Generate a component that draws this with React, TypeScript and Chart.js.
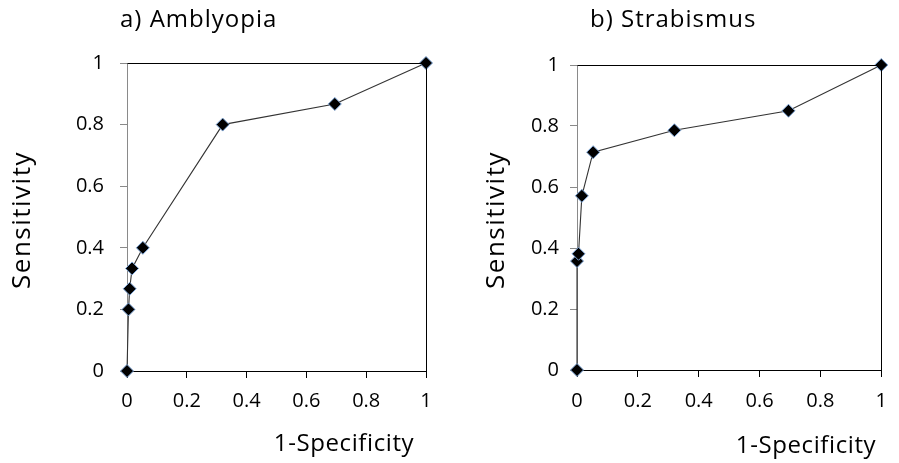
import React, { useEffect, useRef } from "react";
import { Chart, registerables } from "chart.js";

Chart.register(...registerables);

// ---- data ----
const amblyopiaFpr = [0, 0.005, 0.009, 0.017, 0.053, 0.32, 0.695, 1];
const amblyopiaTpr = [0, 0.2, 0.267, 0.333, 0.4, 0.8, 0.867, 1];
const strabismusFpr = [0, 0, 0.005, 0.016, 0.053, 0.32, 0.695, 1];
const strabismusTpr = [0, 0.357, 0.381, 0.571, 0.714, 0.786, 0.85, 1];
const tickValues = [0, 0.2, 0.4, 0.6, 0.8, 1];
const panelTitles = ["a) Amblyopia", "b) Strabismus"];
const xAxisTitle = "1-Specificity";
const yAxisTitle = "Sensitivity";

const FONT = "'Open Sans', 'Noto Sans', sans-serif";

type Layout = {
  canvasW: number;
  canvasH: number;
  left: number;
  top: number;
  right: number;
  bottom: number;
  yPad: number;
  xPad: number;
  titleX: number;
  titleBase: number;
  xTitleX: number;
  xTitleBase: number;
  yTitleX: number;
  yTitleY: number;
};

function makeTextPlugin(title: string, L: Layout) {
  return {
    id: "panelText",
    afterDraw(chart: any) {
      const ctx = chart.ctx as CanvasRenderingContext2D;
      const ca = chart.chartArea;
      ctx.save();
      // plot-area border: top and right in black
      ctx.strokeStyle = "#000";
      ctx.lineWidth = 1;
      ctx.beginPath();
      const l = Math.round(ca.left) + 0.5;
      const t = Math.round(ca.top) + 0.5;
      const r = Math.round(ca.right) + 0.5;
      const b = Math.round(ca.bottom) + 0.5;
      ctx.moveTo(l, t);
      ctx.lineTo(r, t);
      ctx.lineTo(r, b);
      ctx.stroke();

      ctx.fillStyle = "#000";
      // title
      ctx.font = `24px ${FONT}`;
      (ctx as any).letterSpacing = "1px";
      ctx.textAlign = "left";
      ctx.textBaseline = "alphabetic";
      ctx.fillText(title, L.titleX, L.titleBase);
      // x title
      (ctx as any).letterSpacing = "0.6px";
      ctx.textAlign = "center";
      ctx.fillText(xAxisTitle, L.xTitleX, L.xTitleBase);
      // y title
      ctx.font = `26px ${FONT}`;
      (ctx as any).letterSpacing = "1.5px";
      ctx.translate(L.yTitleX, L.yTitleY);
      ctx.rotate(-Math.PI / 2);
      ctx.textBaseline = "middle";
      ctx.fillText(yAxisTitle, 0, 0);
      ctx.restore();
    },
  };
}

function buildConfig(xs: number[], ys: number[], title: string, L: Layout): any {
  const tickFont = { family: FONT, size: 20 };
  return {
    type: "scatter",
    data: {
      datasets: [
        {
          data: xs.map((x, i) => ({ x, y: ys[i] })),
          showLine: true,
          borderColor: "#333333",
          borderWidth: 1.1,
          pointStyle: "rectRot",
          pointRadius: 6.5,
          pointBackgroundColor: "#000000",
          pointBorderColor: "#7fa7d9",
          pointBorderWidth: 1,
          clip: false,
        },
      ],
    },
    options: {
      responsive: false,
      animation: false,
      events: [],
      layout: {
        padding: { left: 0, top: L.top, right: L.canvasW - L.right, bottom: 0 },
      },
      plugins: {
        legend: { display: false },
        tooltip: { enabled: false },
        title: { display: false },
      },
      scales: {
        x: {
          type: "linear",
          min: 0,
          max: 1,
          afterBuildTicks: (s: any) => {
            s.ticks = tickValues.map((v) => ({ value: v }));
          },
          afterFit: (s: any) => {
            s.height = L.canvasH - L.bottom;
          },
          ticks: {
            font: tickFont,
            color: "#000",
            padding: L.xPad,
            maxRotation: 0,
            autoSkip: false,
            callback: (v: any) => String(v),
          },
          grid: {
            drawOnChartArea: false,
            drawTicks: true,
            tickLength: 7,
            color: "#000",
          },
          border: { color: "#000", width: 1 },
        },
        y: {
          type: "linear",
          min: 0,
          max: 1,
          afterBuildTicks: (s: any) => {
            s.ticks = tickValues.map((v) => ({ value: v }));
          },
          afterFit: (s: any) => {
            s.width = L.left;
          },
          ticks: {
            font: tickFont,
            color: "#000",
            padding: L.yPad,
            autoSkip: false,
            callback: (v: any) => String(v),
          },
          grid: {
            drawOnChartArea: false,
            drawTicks: true,
            tickLength: 7,
            color: "#8a8a8a",
          },
          border: { color: "#8a8a8a", width: 1 },
        },
      },
    },
    plugins: [makeTextPlugin(title, L)],
  };
}

const leftLayout: Layout = {
  canvasW: 450,
  canvasH: 463,
  left: 127,
  top: 63,
  right: 426,
  bottom: 371,
  yPad: 16,
  xPad: 11,
  titleX: 120,
  titleBase: 27,
  xTitleX: 344,
  xTitleBase: 451,
  yTitleX: 23,
  yTitleY: 220,
};

const rightLayout: Layout = {
  canvasW: 449,
  canvasH: 463,
  left: 127,
  top: 65,
  right: 440,
  bottom: 370,
  yPad: 11,
  xPad: 12,
  titleX: 140,
  titleBase: 27,
  xTitleX: 356,
  xTitleBase: 453,
  yTitleX: 47,
  yTitleY: 220,
};

function Panel(props: { xs: number[]; ys: number[]; title: string; L: Layout; x: number }) {
  const ref = useRef<HTMLCanvasElement | null>(null);
  useEffect(() => {
    if (!ref.current) return;
    const chart = new Chart(ref.current, buildConfig(props.xs, props.ys, props.title, props.L));
    return () => chart.destroy();
  }, []);
  return (
    <canvas
      ref={ref}
      width={props.L.canvasW}
      height={props.L.canvasH}
      style={{
        position: "absolute",
        left: props.x,
        top: 0,
        width: props.L.canvasW,
        height: props.L.canvasH,
        display: "block",
      }}
    />
  );
}

export default function App() {
  return (
    <div
      style={{
        position: "absolute",
        left: 0,
        top: 0,
        width: 899,
        height: 463,
        background: "#fff",
        overflow: "hidden",
      }}
    >
      <Panel xs={amblyopiaFpr} ys={amblyopiaTpr} title={panelTitles[0]} L={leftLayout} x={0} />
      <Panel xs={strabismusFpr} ys={strabismusTpr} title={panelTitles[1]} L={rightLayout} x={450} />
    </div>
  );
}
